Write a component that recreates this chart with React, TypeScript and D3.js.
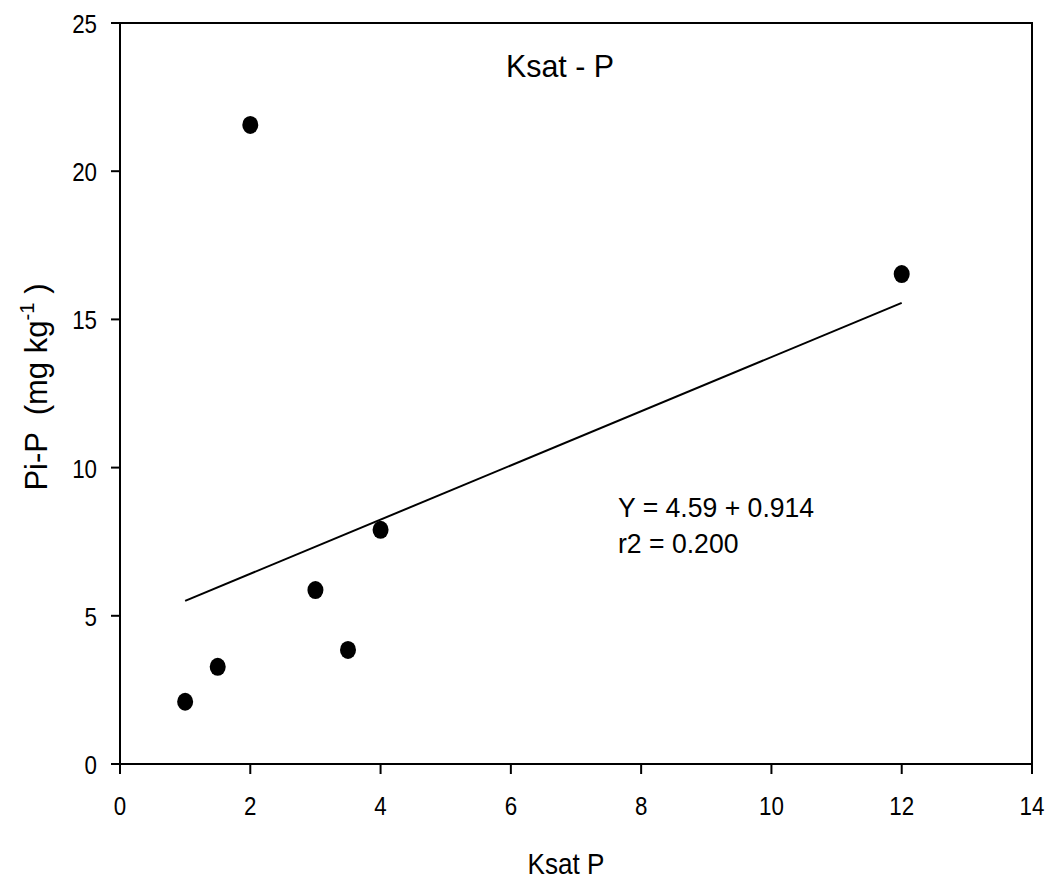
import React from "react";
import * as d3 from "d3";

const xValues = [1, 1.5, 2, 3, 3.5, 4, 12];
const yValues = [2.1, 3.28, 21.56, 5.87, 3.85, 7.9, 16.53];
const xTicks = [0, 2, 4, 6, 8, 10, 12, 14];
const yTicks = [0, 5, 10, 15, 20, 25];
const intercept = 4.59;
const slope = 0.914;
const fitRange = [1, 12];
const title = "Ksat - P";
const xLabel = "Ksat P";
const eqLines = ["Y = 4.59 + 0.914", "r2 = 0.200"];

const W = 1049, H = 882;
const L = 120, R = 1032, T = 23, B = 764;
const FONT = "'Liberation Sans', Arial, sans-serif";

function Txt({ x, y, size, sx = 1, anchor = "start", rot = 0, children }: any) {
  return (
    <text
      transform={`translate(${x},${y}) rotate(${rot}) scale(${sx},1)`}
      textAnchor={anchor}
      fontSize={size}
      fill="#000"
      xmlSpace="preserve"
      style={{ whiteSpace: "pre" }}
    >
      {children}
    </text>
  );
}

export default function App() {
  const x = d3.scaleLinear().domain([0, 14]).range([L, R]);
  const y = d3.scaleLinear().domain([0, 25]).range([B, T]);
  const line = d3.line<number>().x(d => x(d)).y(d => y(intercept + slope * d));
  const pts = xValues.map((v, i) => [v, yValues[i]]);
  return (
    <svg width={W} height={H} style={{ position: "absolute", left: 0, top: 0, background: "#fff" }} fontFamily={FONT}>
      <rect x={0} y={0} width={W} height={H} fill="#fff" />
      <path d={`M${L},${T}H${R}V${B}H${L}Z`} fill="none" stroke="#000" strokeWidth={2} />
      {xTicks.map(t => (
        <g key={"x" + t}>
          <line x1={x(t)} x2={x(t)} y1={B} y2={B + 10} stroke="#000" strokeWidth={2} />
          <Txt x={x(t)} y={B + 51} size={26} sx={0.86} anchor="middle">{t}</Txt>
        </g>
      ))}
      {yTicks.map(t => (
        <g key={"y" + t}>
          <line x1={L - 9} x2={L} y1={y(t)} y2={y(t)} stroke="#000" strokeWidth={2} />
          <Txt x={L - 23} y={y(t) + 10} size={26} sx={0.86} anchor="end">{t}</Txt>
        </g>
      ))}
      <path d={line(fitRange) || ""} fill="none" stroke="#000" strokeWidth={2} />
      {pts.map(([a, b], i) => (
        <ellipse key={i} cx={x(a)} cy={y(b)} rx={8} ry={9} fill="#000" />
      ))}
      <Txt x={560} y={77} size={31} sx={0.98} anchor="middle">{title}</Txt>
      <Txt x={618} y={517} size={28} sx={0.95}>{eqLines[0]}</Txt>
      <Txt x={618} y={553} size={28} sx={0.95}>{eqLines[1]}</Txt>
      <Txt x={566} y={874} size={29} sx={0.9} anchor="middle">{xLabel}</Txt>
      <Txt x={47} y={387} size={32} sx={0.97} rot={-90} anchor="middle">
        <tspan>Pi-P  (mg kg</tspan>
        <tspan dy={-13} fontSize={21}>-1</tspan>
        <tspan dy={13}> )</tspan>
      </Txt>
    </svg>
  );
}
